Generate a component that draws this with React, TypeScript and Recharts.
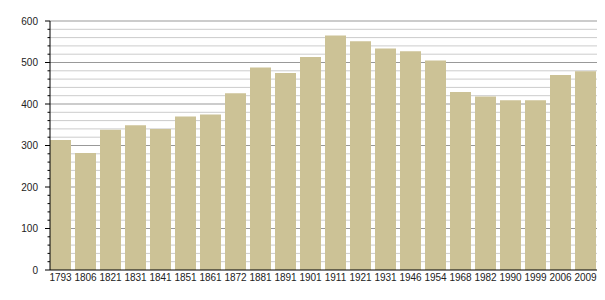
import { BarChart, Bar, XAxis, YAxis, CartesianGrid } from 'recharts'

const years = [
    '1793', '1806', '1821', '1831', '1841', '1851', '1861', '1872', '1881', '1891', '1901',
    '1911', '1921', '1931', '1946', '1954', '1968', '1982', '1990', '1999', '2006', '2009',
]
const population = [
    313, 282, 338, 349, 340, 370, 375, 426, 488, 475, 513,
    565, 551, 534, 527, 505, 429, 418, 409, 409, 470, 479,
]
const yTicks = [
    0, 20, 40, 60, 80, 100, 120, 140, 160, 180, 200, 220, 240, 260, 280, 300,
    320, 340, 360, 380, 400, 420, 440, 460, 480, 500, 520, 540, 560, 580, 600,
]
const yMax = 600

const data = years.map((year, i) => ({ year, population: population[i] }))

function YTick({ x, y, payload }: any) {
    const major = payload.value % 100 === 0
    return (
        <g>
            <line x1={x - (major ? 5 : 2.5)} x2={x} y1={y} y2={y} stroke="#000" />
            {major && (
                <text x={x - 12} y={y} dy={3.5} textAnchor="end" fontSize={10} fill="#222">
                    {payload.value}
                </text>
            )}
        </g>
    )
}

function XTick({ x, y, payload }: any) {
    return (
        <text x={x} y={y} dy={11} textAnchor="middle" fontSize={10} fill="#222">
            {payload.value}
        </text>
    )
}

// darker line every 100, lighter one every 20
function GridLine(props: any) {
    const { x1, x2, y1, y2, y, height } = props
    const v = Math.round(((y + height - y1) / height) * yMax)
    if (v <= 0) return null
    const major = v % 100 === 0
    return <line x1={x1} x2={x2} y1={y1} y2={y2} stroke={major ? '#999999' : '#cccccc'} strokeWidth={1} />
}

export default function App() {
    return (
        <div style={{ position: 'absolute', left: 0, top: 0, width: 605, height: 300, background: '#fff', fontFamily: '"Liberation Sans", Arial, sans-serif' }}>
            <BarChart width={605} height={300} data={data} margin={{ top: 21, right: 8, bottom: 0, left: 0 }}>
                <CartesianGrid vertical={false} horizontal={(p: any) => <GridLine key={p.key} {...p} />} />
                <XAxis
                    dataKey="year"
                    interval={0}
                    tickLine={false}
                    tickSize={0}
                    tickMargin={0}
                    height={30}
                    axisLine={{ stroke: '#000' }}
                    tick={<XTick />}
                    padding={{ left: -2, right: -1 }}
                />
                <YAxis
                    domain={[0, yMax]}
                    ticks={yTicks}
                    interval={0}
                    width={50}
                    tickSize={0}
                    tickMargin={0}
                    tickLine={false}
                    axisLine={{ stroke: '#000' }}
                    tick={<YTick />}
                />
                <Bar dataKey="population" fill="#ccc296" barSize={21} isAnimationActive={false} />
            </BarChart>
        </div>
    )
}
